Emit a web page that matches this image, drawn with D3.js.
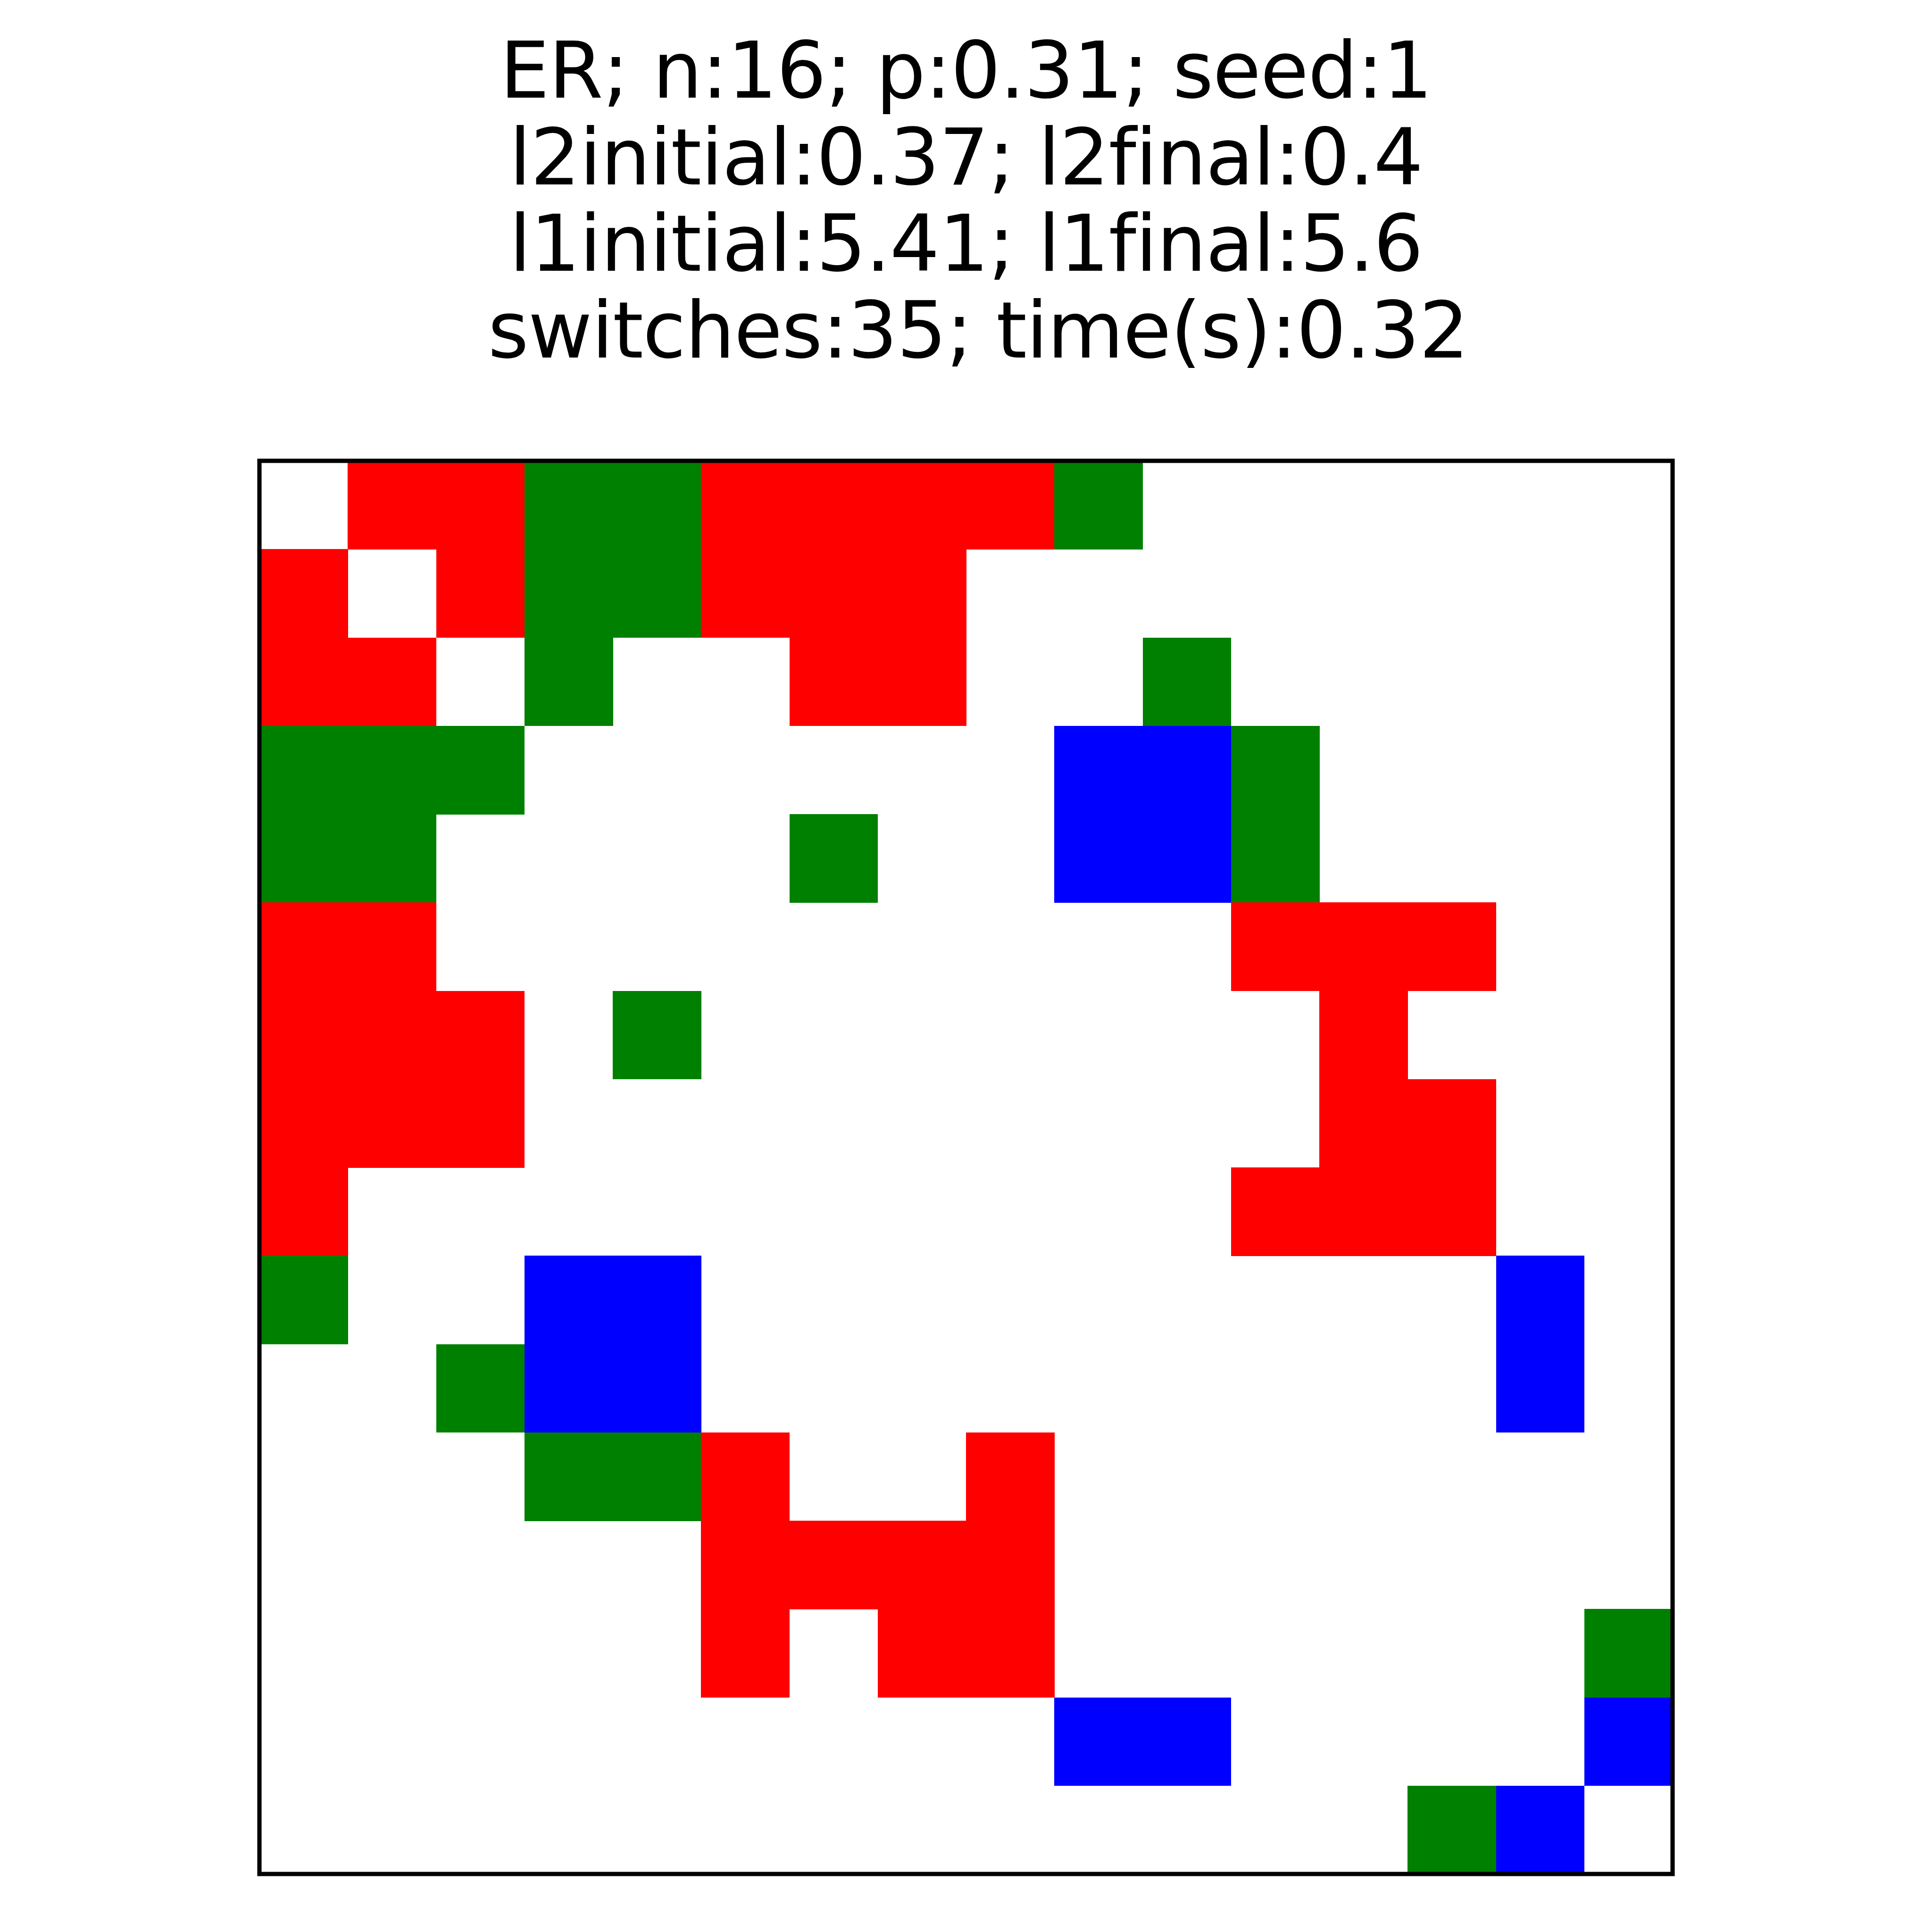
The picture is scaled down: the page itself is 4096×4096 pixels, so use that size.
<!DOCTYPE html>
<html>
<head>
<meta charset="utf-8">
<script src="https://cdn.jsdelivr.net/npm/d3@7"></script>
<style>
  html, body { margin: 0; padding: 0; background: #ffffff; }
  svg { display: block; }
  .title text { white-space: pre; font-variant-ligatures: none; font-feature-settings: "liga" 0, "clig" 0; }
</style>
</head>
<body>
<script>
// ---- data ----
const titleLines = [
  "ER; n:16; p:0.31; seed:1",
  "l2initial:0.37; l2final:0.4",
  "l1initial:5.41; l1final:5.6",
  " switches:35; time(s):0.32"
];
const nodes = [0,1,2,3,4,5,6,7,8,9,10,11,12,13,14,15];
// cell state codes: 0 = none, 1 = red, 2 = green, 3 = blue
const stateCodes = [0, 1, 2, 3];
const stateColors = ["#ffffff", "#ff0000", "#008000", "#0000ff"];
const matrix = [
  [0,1,1,2,2,1,1,1,1,2,0,0,0,0,0,0],
  [1,0,1,2,2,1,1,1,0,0,0,0,0,0,0,0],
  [1,1,0,2,0,0,1,1,0,0,2,0,0,0,0,0],
  [2,2,2,0,0,0,0,0,0,3,3,2,0,0,0,0],
  [2,2,0,0,0,0,2,0,0,3,3,2,0,0,0,0],
  [1,1,0,0,0,0,0,0,0,0,0,1,1,1,0,0],
  [1,1,1,0,2,0,0,0,0,0,0,0,1,0,0,0],
  [1,1,1,0,0,0,0,0,0,0,0,0,1,1,0,0],
  [1,0,0,0,0,0,0,0,0,0,0,1,1,1,0,0],
  [2,0,0,3,3,0,0,0,0,0,0,0,0,0,3,0],
  [0,0,2,3,3,0,0,0,0,0,0,0,0,0,3,0],
  [0,0,0,2,2,1,0,0,1,0,0,0,0,0,0,0],
  [0,0,0,0,0,1,1,1,1,0,0,0,0,0,0,0],
  [0,0,0,0,0,1,0,1,1,0,0,0,0,0,0,2],
  [0,0,0,0,0,0,0,0,0,3,3,0,0,0,0,3],
  [0,0,0,0,0,0,0,0,0,0,0,0,0,2,3,0]
];

// ---- layout ----
const W = 4096, H = 4096;
const plot = { left: 550, top: 977, size: 2996 };
const titleFont = 166;
const titleBaselines = [207, 390.5, 574, 757.6];

const svg = d3.select("body").append("svg")
  .attr("width", W).attr("height", H)
  .attr("viewBox", `0 0 ${W} ${H}`);

svg.append("rect").attr("width", W).attr("height", H).attr("fill", "#ffffff");

const x = d3.scaleBand().domain(nodes).range([plot.left, plot.left + plot.size]).padding(0);
const y = d3.scaleBand().domain(nodes).range([plot.top, plot.top + plot.size]).padding(0);
const color = d3.scaleOrdinal().domain(stateCodes).range(stateColors);

const cells = [];
matrix.forEach((row, i) => row.forEach((v, j) => cells.push({ r: nodes[i], c: nodes[j], v })));

svg.append("g").attr("class", "cells")
  .selectAll("rect")
  .data(cells.filter(d => d.v !== 0))
  .join("rect")
  .attr("x", d => x(d.c))
  .attr("y", d => y(d.r))
  .attr("width", x.bandwidth() + 0.5)
  .attr("height", y.bandwidth() + 0.5)
  .attr("fill", d => color(d.v))
  .attr("shape-rendering", "crispEdges");

// frame
svg.append("rect")
  .attr("x", plot.left).attr("y", plot.top)
  .attr("width", plot.size).attr("height", plot.size)
  .attr("fill", "none")
  .attr("stroke", "#000000")
  .attr("stroke-width", 9.1)
  .attr("stroke-linejoin", "miter");

// title
svg.append("g").attr("class", "title")
  .selectAll("text")
  .data(titleLines)
  .join("text")
  .attr("x", plot.left + plot.size / 2)
  .attr("y", (d, i) => titleBaselines[i])
  .attr("text-anchor", "middle")
  .attr("font-family", "DejaVu Sans")
  .attr("font-size", titleFont)
  .attr("letter-spacing", -1.3)
  .attr("xml:space", "preserve")
  .attr("fill", "#000000")
  .text(d => d);
</script>
</body>
</html>
